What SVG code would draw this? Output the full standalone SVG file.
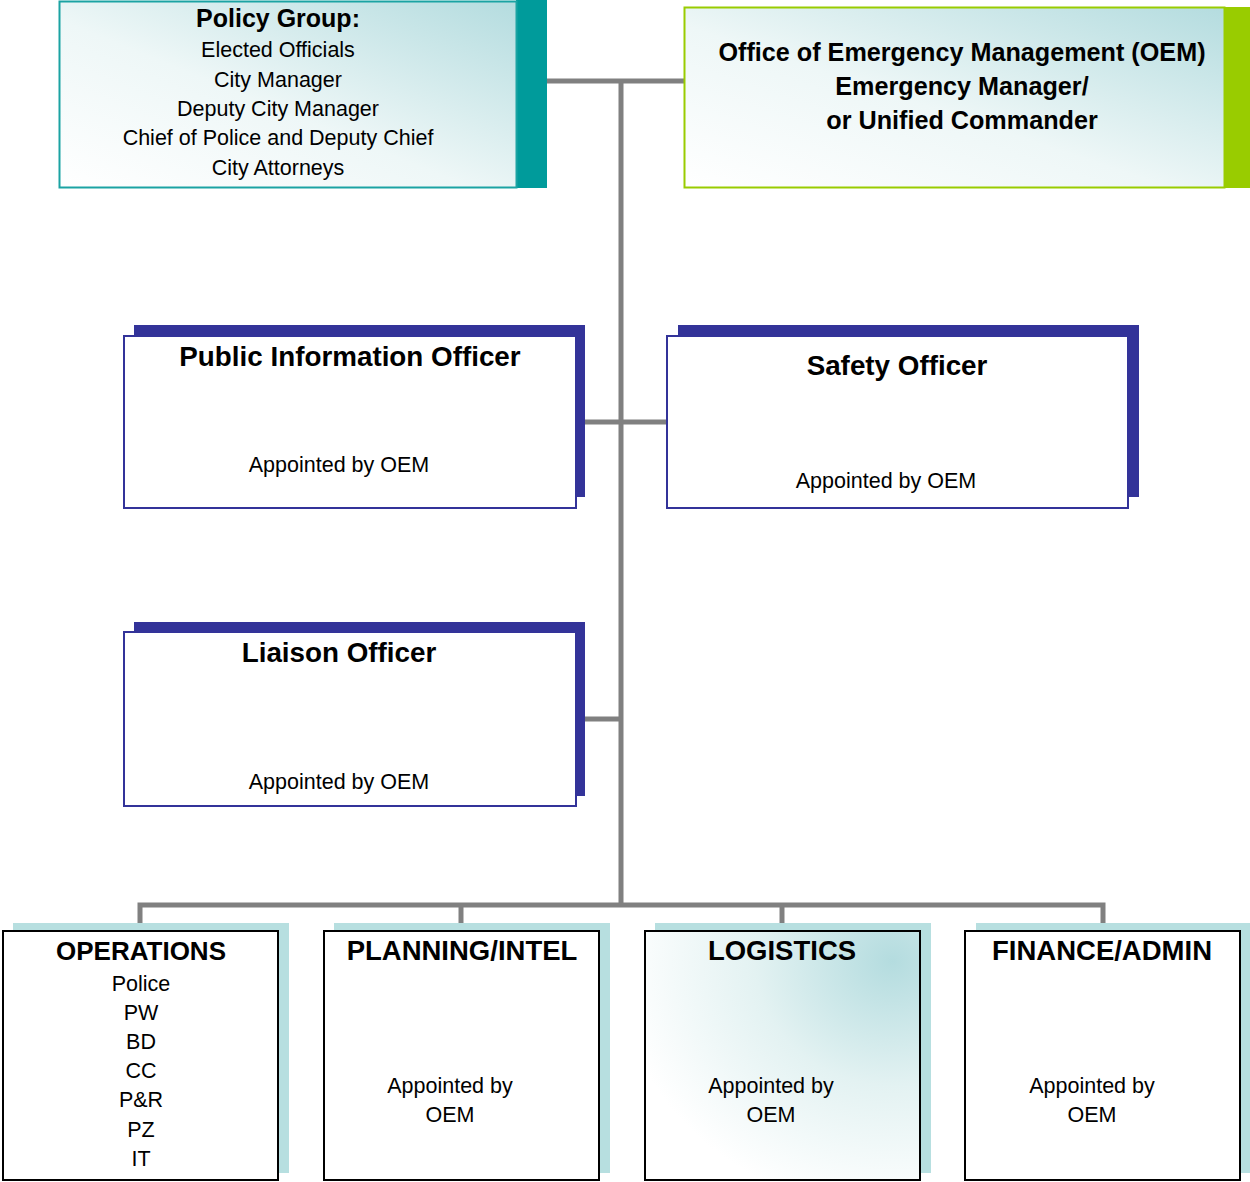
<svg xmlns="http://www.w3.org/2000/svg" width="1250" height="1182" viewBox="0 0 1250 1182">
<defs>
<linearGradient id="gTeal" x1="0" y1="1" x2="1" y2="0">
<stop offset="0" stop-color="#ffffff"/>
<stop offset="0.45" stop-color="#eef7f7"/>
<stop offset="1" stop-color="#b4dcdf"/>
</linearGradient>
<radialGradient id="gLog" cx="0.9" cy="0.12" r="1.0">
<stop offset="0" stop-color="#b4dcdf"/>
<stop offset="0.5" stop-color="#e3f2f2"/>
<stop offset="1" stop-color="#ffffff"/>
</radialGradient>
<style>
.t{font-family:"Liberation Sans",Arial,sans-serif;fill:#000;text-anchor:middle}
.b{font-weight:bold}
.r{font-size:21.5px}
.h{font-size:27.5px}
.conn{stroke:#808080;stroke-width:5;fill:none}
.shadowB{fill:#333399}
.boxB{fill:#fff;stroke:#333399;stroke-width:2}
.shadowT{fill:#b7dfe0}
.boxK{fill:#fff;stroke:#000;stroke-width:2}
</style>
</defs>

<g id="connectors">
<line class="conn" x1="547" y1="81" x2="684" y2="81"/>
<line class="conn" x1="621" y1="81" x2="621" y2="905"/>
<line class="conn" x1="585" y1="422" x2="667" y2="422"/>
<line class="conn" x1="585" y1="719" x2="621" y2="719"/>
<polyline class="conn" points="140,923 140,905 1103,905 1103,923"/>
<line class="conn" x1="461" y1="905" x2="461" y2="923"/>
<line class="conn" x1="782" y1="905" x2="782" y2="923"/>
</g>

<g id="policy-group">
<rect x="516" y="0" width="31" height="188" fill="#009b9b"/>
<rect x="59.5" y="1.5" width="457" height="186" fill="url(#gTeal)" stroke="#1ba3a3" stroke-width="2"/>
<text class="t b" x="278" y="27" font-size="25">Policy Group:</text>
<text class="t r" x="278" y="57">Elected Officials</text>
<text class="t r" x="278" y="87">City Manager</text>
<text class="t r" x="278" y="116">Deputy City Manager</text>
<text class="t r" x="278" y="145">Chief of Police and Deputy Chief</text>
<text class="t r" x="278" y="175">City Attorneys</text>
</g>

<g id="oem">
<rect x="1224" y="7" width="26" height="181" fill="#99cc00"/>
<rect x="684.5" y="7.5" width="540" height="180" fill="url(#gTeal)" stroke="#99cc00" stroke-width="2"/>
<text class="t b" x="962" y="61" font-size="25.2">Office of Emergency Management (OEM)</text>
<text class="t b" x="962" y="95" font-size="25.2">Emergency Manager/</text>
<text class="t b" x="962" y="129" font-size="25.2">or Unified Commander</text>
</g>

<g id="pio">
<rect class="shadowB" x="134" y="325" width="451" height="172"/>
<rect class="boxB" x="124" y="336" width="452" height="172"/>
<text class="t b" x="350" y="366" font-size="27.8">Public Information Officer</text>
<text class="t r" x="339" y="472">Appointed by OEM</text>
</g>

<g id="safety">
<rect class="shadowB" x="678" y="325" width="461" height="172"/>
<rect class="boxB" x="667" y="336" width="461" height="172"/>
<text class="t b" x="897" y="375" font-size="27.8">Safety Officer</text>
<text class="t r" x="886" y="488">Appointed by OEM</text>
</g>

<g id="liaison">
<rect class="shadowB" x="134" y="622" width="451" height="174"/>
<rect class="boxB" x="124" y="632" width="452" height="174"/>
<text class="t b" x="339" y="662" font-size="27.8">Liaison Officer</text>
<text class="t r" x="339" y="789">Appointed by OEM</text>
</g>

<g id="operations">
<rect class="shadowT" x="13" y="923" width="276" height="250"/>
<rect class="boxK" x="3" y="931" width="275" height="249"/>
<text class="t b" x="141" y="960" font-size="26">OPERATIONS</text>
<text class="t r" x="141" y="991">Police</text>
<text class="t r" x="141" y="1020">PW</text>
<text class="t r" x="141" y="1049">BD</text>
<text class="t r" x="141" y="1078">CC</text>
<text class="t r" x="141" y="1107">P&amp;R</text>
<text class="t r" x="141" y="1137">PZ</text>
<text class="t r" x="141" y="1166">IT</text>
</g>

<g id="planning">
<rect class="shadowT" x="334" y="923" width="276" height="250"/>
<rect class="boxK" x="324" y="931" width="275" height="249"/>
<text class="t b h" x="462" y="960">PLANNING/INTEL</text>
<text class="t r" x="450" y="1093">Appointed by</text>
<text class="t r" x="450" y="1122">OEM</text>
</g>

<g id="logistics">
<rect class="shadowT" x="655" y="923" width="276" height="250"/>
<rect x="645" y="931" width="275" height="249" fill="url(#gLog)" stroke="#000" stroke-width="2"/>
<text class="t b h" x="782" y="960">LOGISTICS</text>
<text class="t r" x="771" y="1093">Appointed by</text>
<text class="t r" x="771" y="1122">OEM</text>
</g>

<g id="finance">
<rect class="shadowT" x="976" y="923" width="274" height="250"/>
<rect class="boxK" x="965" y="931" width="275" height="249"/>
<text class="t b h" x="1102" y="960">FINANCE/ADMIN</text>
<text class="t r" x="1092" y="1093">Appointed by</text>
<text class="t r" x="1092" y="1122">OEM</text>
</g>
</svg>
